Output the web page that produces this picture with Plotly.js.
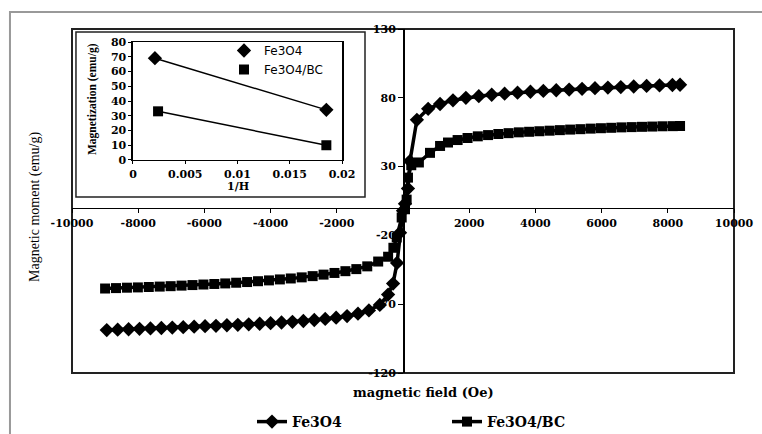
<!DOCTYPE html>
<html>
<head>
<meta charset="utf-8">
<script src="https://cdn.plot.ly/plotly-3.0.1.min.js"></script>
<style>html,body{margin:0;padding:0;background:#fff;}#chart{width:762px;height:434px;}</style>
</head>
<body>
<div id="chart"></div>
<script>
// Main hysteresis data
var feH = [-8950,-8620,-8290,-7960,-7630,-7300,-6970,-6640,-6310,-5980,-5650,-5320,-4990,-4660,-4330,-4000,-3670,-3340,-3010,-2680,-2350,-2020,-1690,-1360,-1030,-700,-450,-300,-180,-90,0,60,150,210,420,760,1120,1510,1900,2290,2680,3070,3460,3850,4240,4630,5020,5410,5800,6190,6580,6970,7360,7750,8140,8370];
var feM = [-88.8,-88.5,-88.2,-87.9,-87.6,-87.3,-87.0,-86.7,-86.3,-86.0,-85.7,-85.3,-85.0,-84.6,-84.2,-83.8,-83.3,-82.8,-82.2,-81.5,-80.7,-79.8,-78.6,-76.9,-74.5,-70.5,-63,-55,-40,-18,-2,3,14,34,64,72,75.5,78.2,80,81.2,82.2,83,83.7,84.4,85,85.5,86,86.5,87,87.4,87.8,88.2,88.6,89,89.3,89.5];
var bcH = [-9000,-8670,-8340,-8010,-7680,-7350,-7020,-6690,-6360,-6030,-5700,-5370,-5040,-4710,-4380,-4050,-3720,-3390,-3060,-2730,-2400,-2070,-1740,-1410,-1080,-750,-450,-290,-190,-40,60,110,150,250,480,815,1120,1360,1650,1950,2260,2570,2880,3190,3500,3810,4120,4430,4740,5050,5360,5670,5980,6290,6600,6910,7220,7530,7840,8150,8370];
var bcM = [-58.6,-58.3,-58.0,-57.8,-57.5,-57.2,-56.9,-56.5,-56.1,-55.7,-55.3,-54.9,-54.4,-53.9,-53.3,-52.7,-52.0,-51.3,-50.5,-49.6,-48.5,-47.3,-46.0,-44.5,-42.5,-39,-35.5,-29,-21.5,-7,-1,6,22,31,33,40,45,47.5,49.3,50.8,52,52.9,53.7,54.3,54.9,55.3,55.7,56.1,56.5,56.9,57.2,57.6,57.9,58.2,58.5,58.7,58.9,59.1,59.3,59.4,59.5];

// Inset data
var insetInvH_fe = [0.0021, 0.0185];
var insetM_fe = [69, 34];
var insetInvH_bc = [0.0024, 0.0185];
var insetM_bc = [33, 10];

var seriesNames = ['Fe3O4', 'Fe3O4/BC'];
var xTicks = [-10000,-8000,-6000,-4000,-2000,2000,4000,6000,8000,10000];
var xTickText = ['-10000','-8000','-6000','-4000','-2000','2000','4000','6000','8000','10000'];
var yTicks = [-120,-70,-20,30,80,130];
var yTickText = ['-120','-70','-20','30','80','130'];
var insetXTicks = [0,0.005,0.01,0.015,0.02];
var insetXTickText = ['0','0.005','0.01','0.015','0.02'];
var insetYTicks = [0,10,20,30,40,50,60,70,80];

var serifB = {family:'DejaVu Serif', size:11, color:'#000', weight:'bold'};
var serifBSmall = {family:'DejaVu Serif', size:11, color:'#000', weight:'bold'};

var traces = [
  {x:feH, y:feM, name:seriesNames[0], mode:'lines+markers', xaxis:'x', yaxis:'y',
   line:{color:'#000', width:3.5}, marker:{symbol:'diamond', size:11, color:'#000'}},
  {x:bcH, y:bcM, name:seriesNames[1], mode:'lines+markers', xaxis:'x', yaxis:'y',
   line:{color:'#000', width:3.5}, marker:{symbol:'square', size:10, color:'#000'}},
  {x:insetInvH_fe, y:insetM_fe, mode:'lines', xaxis:'x2', yaxis:'y2', showlegend:false,
   line:{color:'#000', width:1.5}, hoverinfo:'skip'},
  {x:insetInvH_bc, y:insetM_bc, mode:'lines', xaxis:'x2', yaxis:'y2', showlegend:false,
   line:{color:'#000', width:1.5}, hoverinfo:'skip'},
  {x:insetInvH_fe, y:insetM_fe, name:seriesNames[0], mode:'markers', xaxis:'x2', yaxis:'y2', legend:'legend2',
   marker:{symbol:'diamond', size:11, color:'#000'}},
  {x:insetInvH_bc, y:insetM_bc, name:seriesNames[1], mode:'markers', xaxis:'x2', yaxis:'y2', legend:'legend2',
   marker:{symbol:'square', size:10, color:'#000'}}
];

var layout = {
  width:762, height:434,
  margin:{l:72, r:28, t:29, b:61, autoexpand:false},
  paper_bgcolor:'#fff', plot_bgcolor:'rgba(0,0,0,0)',
  showlegend:true,
  xaxis:{domain:[0,1], range:[-10000,10000], anchor:'free', position:0.48,
    tickvals:xTicks, ticktext:xTickText, tickangle:0, ticks:'outside', ticklen:4, tickcolor:'#000',
    showline:true, linecolor:'#000', linewidth:1.5, showgrid:false, zeroline:false,
    tickfont:serifB, layer:'below traces', automargin:false},
  yaxis:{domain:[0,1], range:[-120,130], anchor:'free', position:0.5,
    tickvals:yTicks, ticktext:yTickText, ticks:'outside', ticklen:5, tickcolor:'#000',
    showline:true, linecolor:'#000', linewidth:1.5, showgrid:false, zeroline:false,
    tickfont:serifB, layer:'below traces', automargin:false},
  xaxis2:{domain:[0.0921,0.4079], range:[0,0.02], anchor:'y2',
    tickvals:insetXTicks, ticktext:insetXTickText, tickangle:0, ticks:'outside', ticklen:3, tickcolor:'#000',
    showline:true, mirror:true, linecolor:'#000', linewidth:1.5, showgrid:false, zeroline:false,
    tickfont:serifBSmall, automargin:false},
  yaxis2:{domain:[0.6192,0.9622], range:[0,80], anchor:'x2',
    tickvals:insetYTicks, ticks:'outside', ticklen:3, tickcolor:'#000',
    showline:true, mirror:true, linecolor:'#000', linewidth:1.5, showgrid:false, zeroline:false,
    tickfont:serifBSmall, automargin:false},
  legend:{orientation:'h', xref:'container', yref:'container', x:252/762, y:1-406/434,
    xanchor:'left', yanchor:'top', entrywidth:150, entrywidthmode:'pixels',
    font:{family:'DejaVu Serif', size:14, color:'#000', weight:'bold'}, bgcolor:'rgba(0,0,0,0)'},
  legend2:{xref:'container', yref:'container', x:224/762, y:1-36/434,
    xanchor:'left', yanchor:'top', itemwidth:30, tracegroupgap:0,
    font:{family:'DejaVu Sans', size:12, color:'#000'}, bgcolor:'rgba(0,0,0,0)'},
  shapes:[
    {type:'rect', xref:'paper', yref:'paper', x0:-0.0937, x1:1.3, y0:-0.6, y1:1.0494,
     line:{color:'#999', width:2}, layer:'below'},
    {type:'rect', xref:'paper', yref:'paper', x0:0, x1:1, y0:0, y1:1,
     line:{color:'#222', width:2}, layer:'below'},
    {type:'rect', xref:'paper', yref:'paper', x0:0.006, x1:0.4426, y0:0.5116, y1:0.9913,
     line:{color:'#222', width:1.5}, layer:'below'}
  ],
  annotations:[
    {text:'magnetic field (Oe)', xref:'paper', yref:'paper', x:0.5317, y:-0.0581,
     xanchor:'center', yanchor:'middle',
     showarrow:false, font:{family:'DejaVu Serif', size:13, color:'#000', weight:'bold'}},
    {text:'Magnetic moment (emu/g)', xref:'paper', yref:'paper', x:-0.0559, y:0.4826,
     xanchor:'center', yanchor:'middle',
     textangle:-90, showarrow:false, font:{family:'Liberation Serif', size:14, color:'#000'}},
    {text:'Magnetization (emu/g)', xref:'paper', yref:'paper', x:0.0302, y:0.7965,
     xanchor:'center', yanchor:'middle',
     textangle:-90, showarrow:false, font:{family:'Liberation Serif', size:11.5, color:'#000', weight:'bold'}},
    {text:'1/H', xref:'paper', yref:'paper', x:0.2508, y:0.5436,
     xanchor:'center', yanchor:'middle',
     showarrow:false, font:{family:'DejaVu Serif', size:11, color:'#000', weight:'bold'}}
  ]
};

Plotly.newPlot('chart', traces, layout, {displayModeBar:false, staticPlot:true});
</script>
</body>
</html>
